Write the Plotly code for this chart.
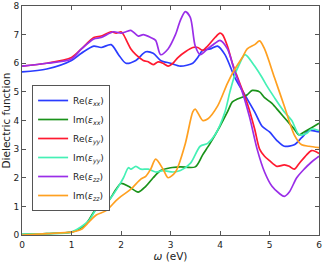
import plotly.graph_objects as go

x_re_xx = [0, 0.5, 1.0, 1.2, 1.45, 1.6, 1.8, 1.95, 2.1, 2.3, 2.5, 2.65, 2.8, 3.0, 3.2, 3.45, 3.55, 3.65, 3.8, 3.95, 4.1, 4.3, 4.5, 4.7, 4.85, 5.0, 5.15, 5.3, 5.5, 5.65, 5.8, 6.0]
re_xx = [5.7, 5.8, 6.1, 6.35, 6.6, 6.55, 6.65, 6.3, 6.0, 6.1, 6.4, 6.35, 6.1, 6.0, 5.9, 6.0, 6.2, 6.45, 6.5, 6.6, 6.3, 5.5, 4.9, 4.3, 3.8, 3.6, 3.3, 3.1, 3.15, 3.4, 3.65, 3.6]

x_im_xx = [0, 0.5, 1.0, 1.15, 1.3, 1.45, 1.55, 1.75, 1.9, 2.0, 2.15, 2.35, 2.5, 2.65, 2.8, 3.0, 3.2, 3.5, 3.65, 3.8, 4.0, 4.15, 4.25, 4.35, 4.5, 4.55, 4.65, 4.8, 4.9, 5.05, 5.2, 5.35, 5.5, 5.6, 5.7, 5.85, 6.0]
im_xx = [0.02, 0.05, 0.1, 0.2, 0.4, 0.8, 1.0, 1.2, 1.6, 1.8, 1.7, 1.5, 1.7, 2.0, 2.25, 2.35, 2.38, 2.38, 2.8, 3.2, 3.8, 4.3, 4.65, 4.75, 4.85, 4.9, 5.05, 5.0, 4.8, 4.6, 4.3, 4.0, 3.7, 3.5, 3.6, 3.75, 3.9]

x_re_yy = [0, 0.5, 1.0, 1.2, 1.45, 1.6, 1.8, 1.9, 2.0, 2.05, 2.2, 2.3, 2.45, 2.55, 2.65, 2.75, 2.85, 2.95, 3.05, 3.15, 3.3, 3.45, 3.55, 3.65, 3.75, 3.9, 4.0, 4.05, 4.15, 4.25, 4.4, 4.55, 4.7, 4.8, 4.9, 5.0, 5.15, 5.3, 5.4, 5.5, 5.6, 5.75, 5.85, 5.95, 6.0]
re_yy = [5.9, 6.0, 6.2, 6.5, 6.9, 6.95, 7.1, 7.05, 7.1, 7.0, 6.5, 6.3, 6.1, 6.05, 5.95, 6.05, 6.0, 5.9, 6.0, 6.2, 6.4, 6.55, 6.55, 6.45, 6.6, 6.9, 7.05, 7.0, 6.6, 6.0, 5.3, 4.6, 3.7, 3.0, 2.75, 2.6, 2.4, 2.45, 2.4, 2.3, 2.5, 2.8, 2.95, 2.9, 2.85]

x_im_yy = [0, 0.5, 1.0, 1.35, 1.5, 1.75, 1.95, 2.05, 2.15, 2.2, 2.3, 2.4, 2.55, 2.7, 2.85, 3.05, 3.2, 3.4, 3.6, 3.75, 3.9, 4.1, 4.2, 4.3, 4.4, 4.5, 4.55, 4.7, 4.85, 4.95, 5.1, 5.3, 5.45, 5.6, 5.75, 5.85, 6.0]
im_yy = [0.02, 0.05, 0.1, 0.5, 0.9, 1.2, 1.7, 2.0, 2.35, 2.3, 2.4, 2.3, 2.3, 2.2, 2.25, 2.2, 2.25, 2.5, 3.1, 3.2, 3.5, 4.3, 5.0, 5.6, 6.0, 6.3, 6.25, 5.9, 5.5, 5.2, 4.8, 4.3, 4.0, 3.5, 3.55, 3.7, 3.65]

x_re_zz = [0, 0.5, 1.0, 1.2, 1.45, 1.6, 1.85, 2.0, 2.1, 2.2, 2.35, 2.45, 2.6, 2.7, 2.8, 2.95, 3.1, 3.2, 3.3, 3.4, 3.5, 3.6, 3.75, 3.9, 4.0, 4.15, 4.3, 4.45, 4.6, 4.75, 4.9, 5.05, 5.2, 5.3, 5.4, 5.55, 5.7, 5.85, 6.0]
re_zz = [5.9, 6.0, 6.15, 6.5, 6.85, 6.9, 7.1, 7.05, 7.1, 7.15, 6.95, 7.0, 6.9, 6.8, 6.3, 6.5, 7.0, 7.5, 7.8, 7.6, 6.6, 6.3, 6.5, 6.7, 6.8, 6.5, 5.7, 5.0, 4.1, 3.0, 2.2, 1.7, 1.45, 1.35, 1.5, 2.0, 2.3, 2.55, 2.75]

x_im_zz = [0, 0.5, 1.0, 1.2, 1.35, 1.5, 1.7, 1.9, 2.0, 2.2, 2.4, 2.5, 2.6, 2.7, 2.85, 2.95, 3.1, 3.3, 3.45, 3.5, 3.65, 3.75, 3.95, 4.15, 4.3, 4.45, 4.55, 4.7, 4.8, 4.9, 5.1, 5.3, 5.5, 5.65, 5.8, 6.0]
im_zz = [0.0, 0.05, 0.1, 0.2, 0.45, 0.7, 0.85, 1.2, 1.35, 1.6, 1.95, 2.05, 2.3, 2.65, 2.3, 2.0, 2.2, 3.2, 4.3, 4.4, 4.0, 4.05, 4.5, 5.3, 5.8, 6.2, 6.5, 6.65, 6.78, 6.5, 5.5, 4.5, 3.5, 3.15, 3.1, 3.05]

series = [
    ("Re(<i>ε</i><sub><i>xx</i></sub>)", x_re_xx, re_xx, "#2a3cff"),
    ("Im(<i>ε</i><sub><i>xx</i></sub>)", x_im_xx, im_xx, "#1a921a"),
    ("Re(<i>ε</i><sub><i>yy</i></sub>)", x_re_yy, re_yy, "#ff1a30"),
    ("Im(<i>ε</i><sub><i>yy</i></sub>)", x_im_yy, im_yy, "#45f0b5"),
    ("Re(<i>ε</i><sub><i>zz</i></sub>)", x_re_zz, re_zz, "#9a2ee8"),
    ("Im(<i>ε</i><sub><i>zz</i></sub>)", x_im_zz, im_zz, "#ffa020"),
]

fig = go.Figure()
for name, xs, ys, c in series:
    fig.add_trace(go.Scatter(x=xs, y=ys, mode="lines", name=name,
                             line=dict(color=c, width=1.7, shape="spline", smoothing=0.8)))

axis_common = dict(showgrid=False, zeroline=False, mirror="ticks", ticks="inside",
                   ticklen=4, linecolor="#555555", linewidth=1, showline=True,
                   tickcolor="#555555", tickfont=dict(size=9, color="#222222"),
                   automargin=False)
fig.update_xaxes(range=[0, 6], dtick=1, ticklabelstandoff=1,
                 title=dict(text="<i>ω</i> (eV)", font=dict(size=10.5), standoff=1), **axis_common)
fig.update_yaxes(range=[0, 8], dtick=1,
                 title=dict(text="Dielectric function", font=dict(size=10.5), standoff=2), **axis_common)

fig.update_layout(
    width=323, height=262,
    margin=dict(l=22, r=4, t=6, b=27),
    plot_bgcolor="white", paper_bgcolor="white",
    font=dict(family="DejaVu Sans", color="#222222"),
    legend=dict(x=0.034, y=0.655, xanchor="left", yanchor="top",
                bgcolor="white", bordercolor="#555555", borderwidth=1,
                font=dict(size=9), tracegroupgap=0, itemwidth=30),
)
fig.write_html("out.html", config={"displayModeBar": False},
               post_script="document.body.style.margin='0';document.body.style.padding='0';document.body.style.overflow='hidden';")
